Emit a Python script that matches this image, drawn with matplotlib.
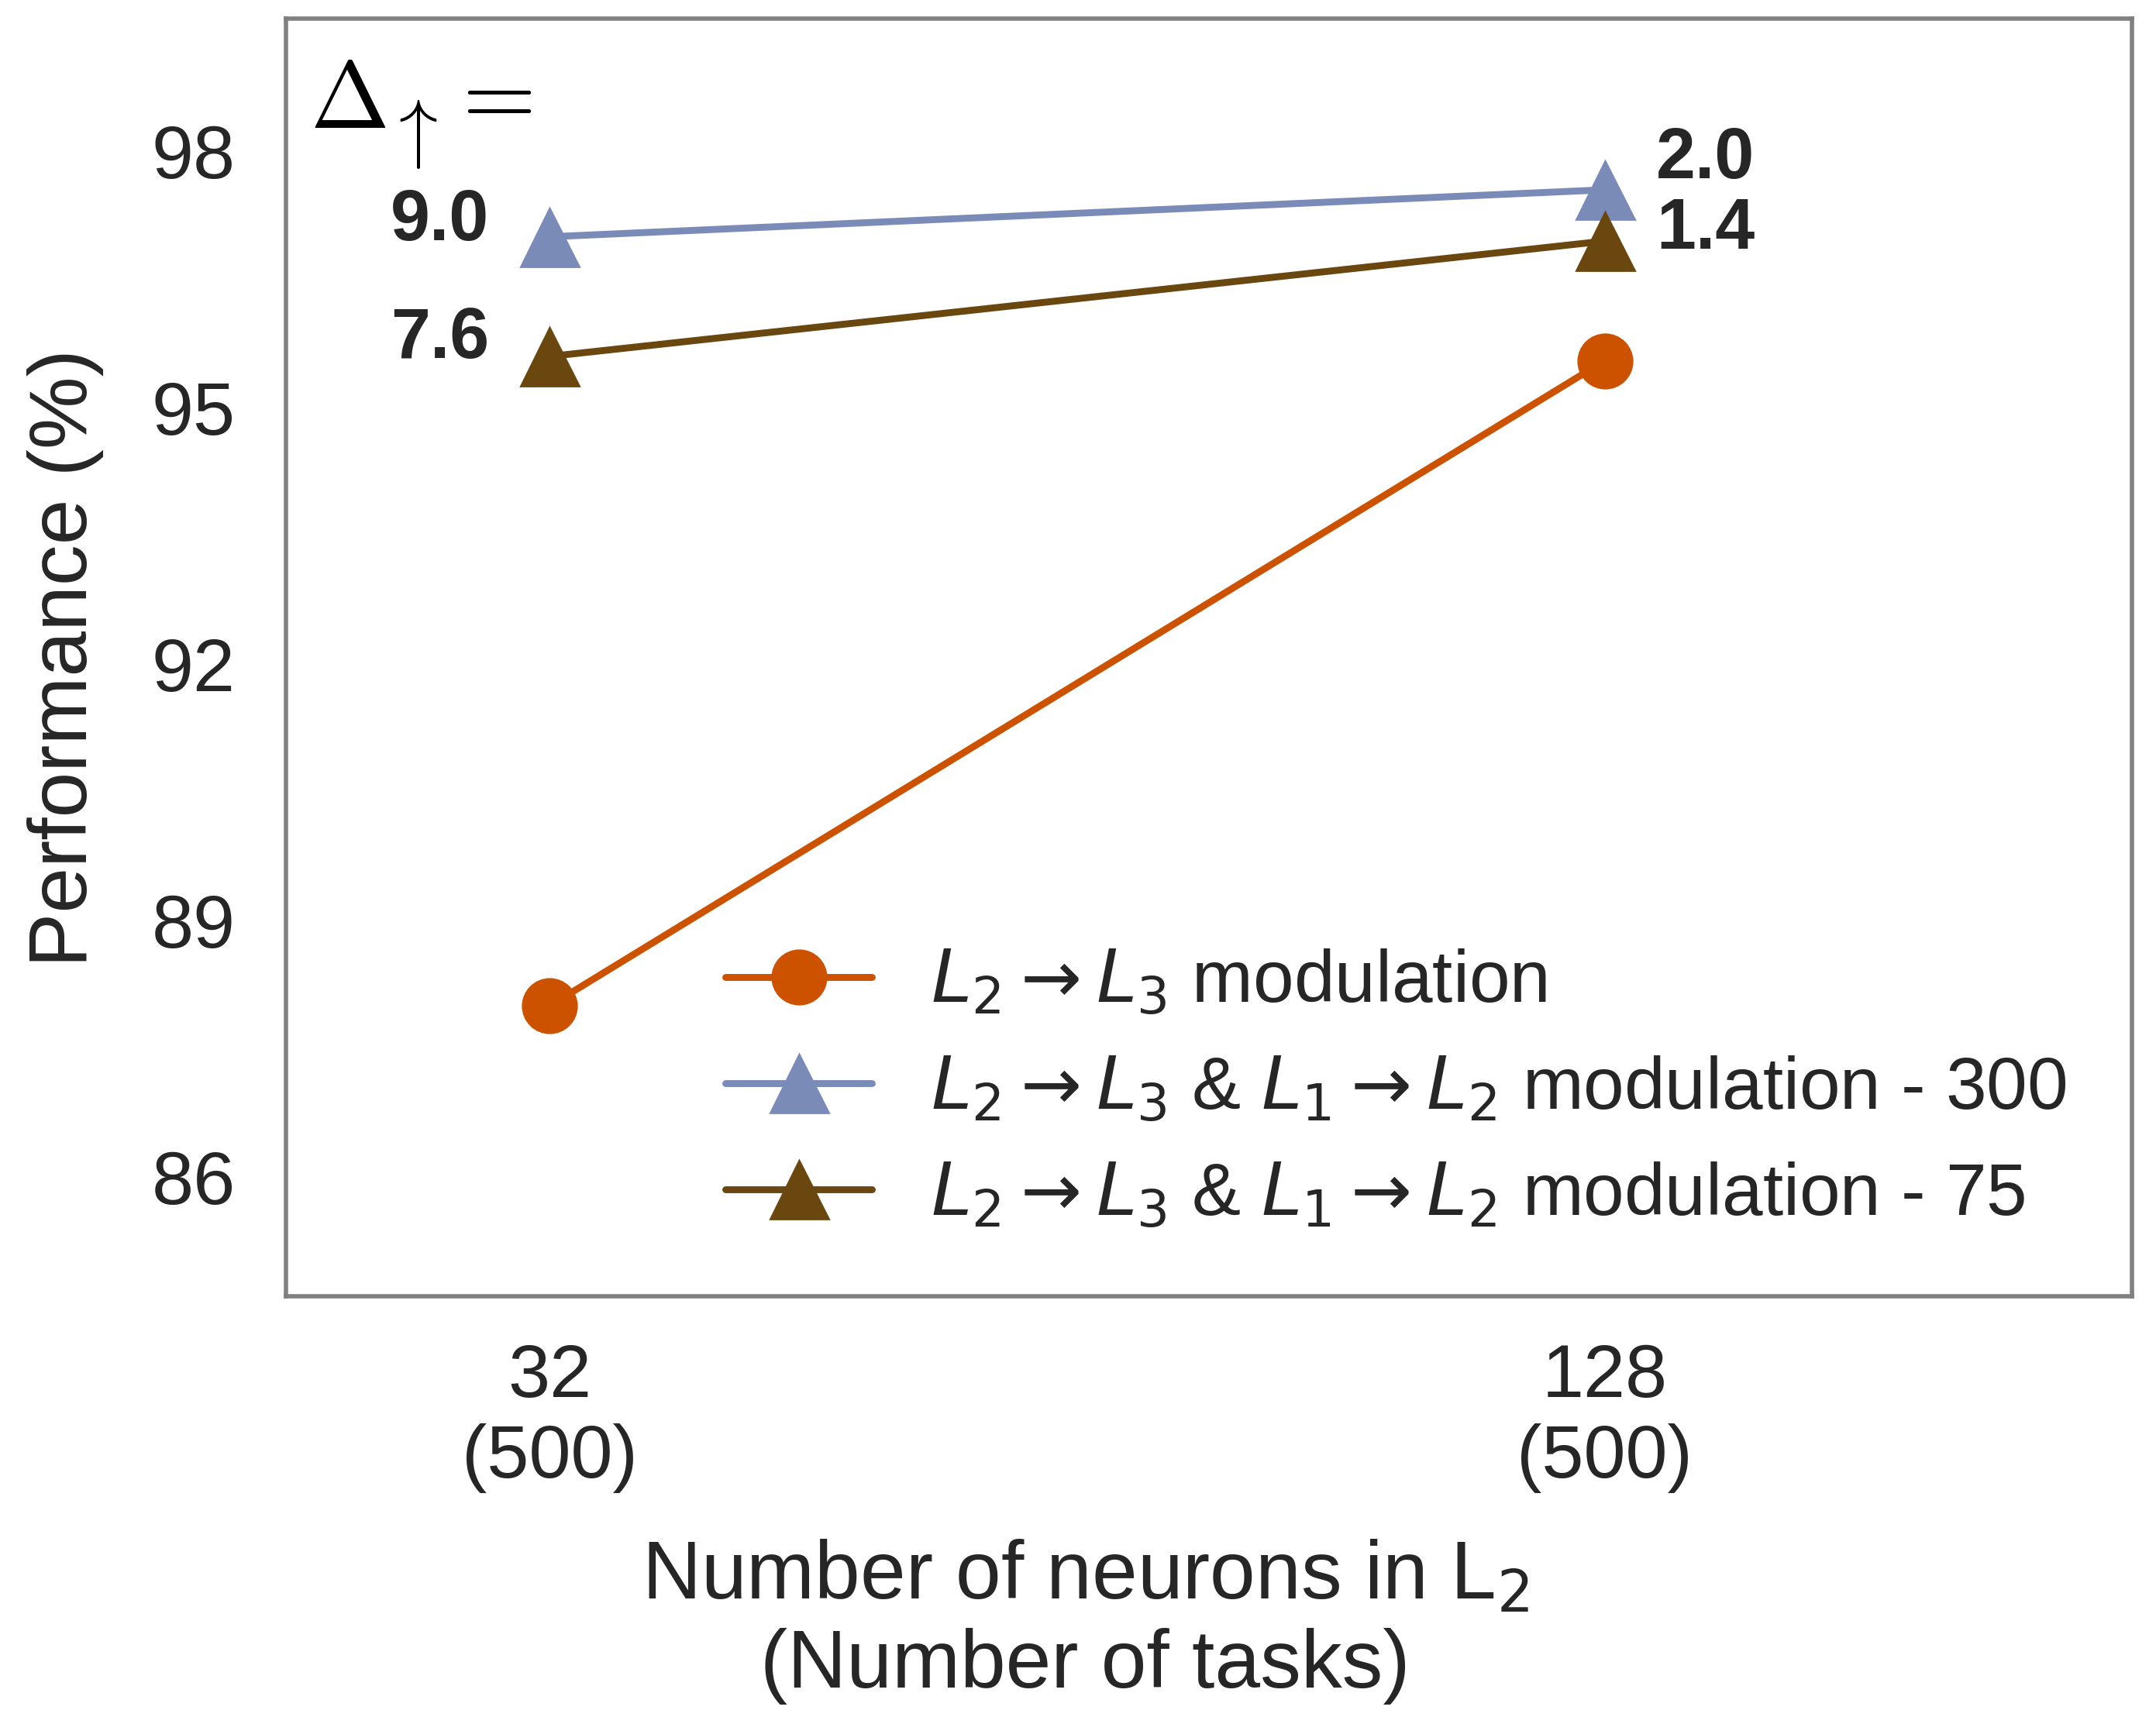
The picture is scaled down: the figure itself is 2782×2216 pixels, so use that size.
import matplotlib
matplotlib.use("Agg")
import matplotlib.pyplot as plt
import seaborn as sns

# data
neurons = ["32\n(500)", "128\n(500)"]
perf_l2l3 = [88.0, 95.55]
perf_both_300 = [97.0, 97.55]
perf_both_75 = [95.6, 96.95]
delta_300 = ["9.0", "2.0"]
delta_75 = ["7.6", "1.4"]

labels = [r"$L_2 \rightarrow L_3$ modulation",
          r"$L_2 \rightarrow L_3$ & $L_1 \rightarrow L_2$ modulation - 300",
          r"$L_2 \rightarrow L_3$ & $L_1 \rightarrow L_2$ modulation - 75"]
colors = ["#cc5200", "#7a8bb8", "#69470f"]

sns.set_style("white")
plt.rcParams['font.family'] = ['Liberation Sans', 'DejaVu Sans']
plt.rcParams['mathtext.fontset'] = 'dejavusans'
plt.rcParams['text.color'] = '#262626'
plt.rcParams['axes.labelcolor'] = '#262626'
plt.rcParams['xtick.color'] = '#262626'
plt.rcParams['ytick.color'] = '#262626'

fig = plt.figure(figsize=(13.91, 11.08), dpi=200)
ax = fig.add_axes([0.1326, 0.245, 0.8564, 0.744])

x = list(range(len(neurons)))
ax.plot(x, perf_l2l3, marker='o', ms=25, lw=3.2, color=colors[0], label=labels[0])
ax.plot(x, perf_both_300, marker='^', ms=27, lw=3.2, color=colors[1], label=labels[1])
ax.plot(x, perf_both_75, marker='^', ms=27, lw=3.2, color=colors[2], label=labels[2])

# delta annotations
for i in range(2):
    if i == 0:
        off300, off75, ha = (-28, 7), (-28, 8), 'right'
    else:
        off300, off75, ha = (24, 14), (24, 5), 'left'
    ax.annotate(delta_300[i], (x[i], perf_both_300[i]), textcoords='offset points',
                xytext=off300, ha=ha, va='center', fontsize=33, fontweight='bold')
    ax.annotate(delta_75[i], (x[i], perf_both_75[i]), textcoords='offset points',
                xytext=off75, ha=ha, va='center', fontsize=33, fontweight='bold')

# "Delta_up =" header, pieces placed separately to get the tall arrow
ax.text(0.013, 0.915, r"$\Delta$", transform=ax.transAxes, ha='left', va='baseline',
        fontsize=44, color='black', math_fontfamily='cm')
ax.text(0.068, 0.9096, r"$\uparrow$", transform=ax.transAxes, ha='center', va='center',
        fontsize=36, color='black', math_fontfamily='cm')
ax.text(0.110, 0.937, r"$=$", transform=ax.transAxes, ha='center', va='center',
        fontsize=44, color='black', math_fontfamily='cm')

ax.set_xlim(-0.25, 1.5)
ax.set_ylim(84.6, 99.55)
ax.set_xticks(x)
ax.set_xticklabels(neurons, fontsize=35)
ax.set_yticks([86, 89, 92, 95, 98])
ax.tick_params(axis='y', labelsize=35, pad=20)
ax.tick_params(axis='x', pad=18)
ax.set_ylabel("Performance (%)", fontsize=38, labelpad=22)
ax.set_xlabel("Number of neurons in L$_2$\n(Number of tasks)", fontsize=38)
ax.xaxis.set_label_coords(0.433, -0.19)

for sp in ax.spines.values():
    sp.set_color('#808080')
    sp.set_linewidth(2.0)

ax.legend(loc='lower right', frameon=False, fontsize=34, handlelength=2.0,
          labelspacing=0.5, bbox_to_anchor=(1.0, 0.0))

fig.savefig("out.png", dpi=200)
